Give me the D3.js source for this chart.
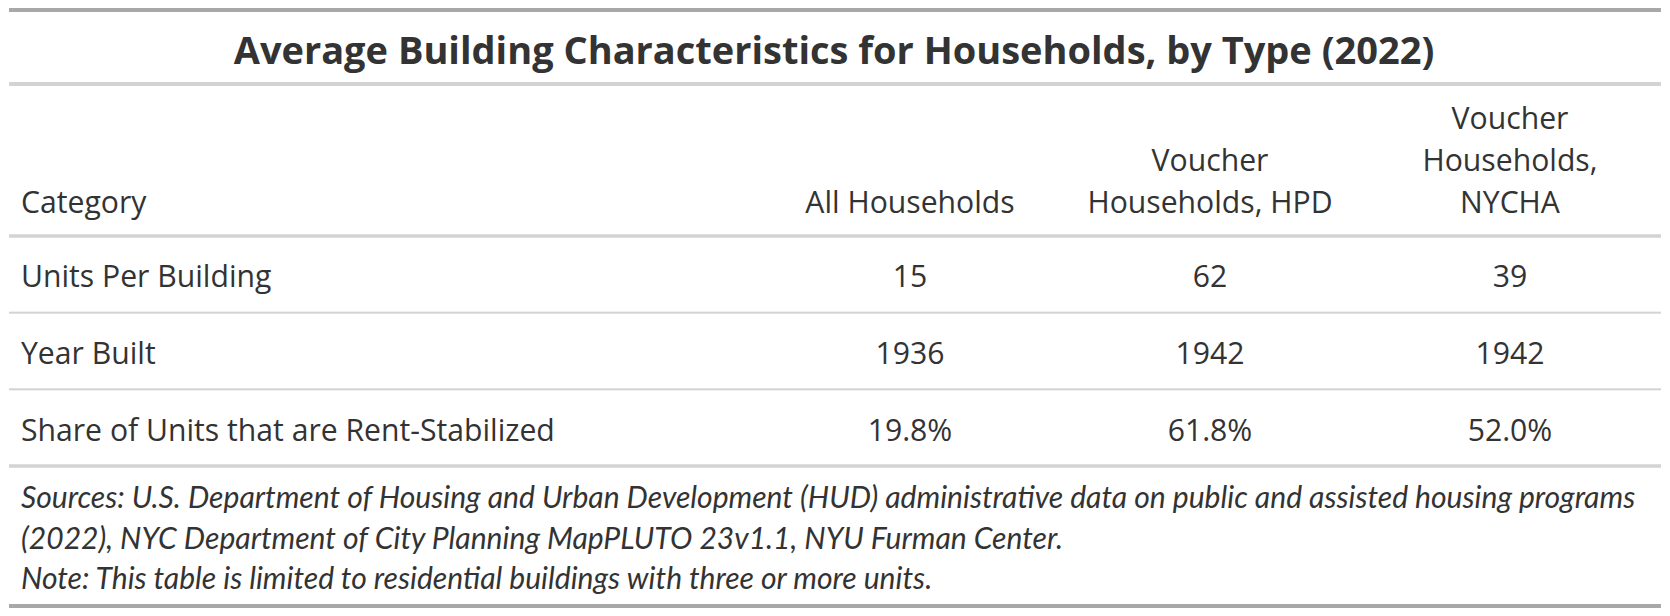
<!DOCTYPE html>
<html><head><meta charset="utf-8">
<script src="https://cdn.jsdelivr.net/npm/d3@7/dist/d3.min.js"></script>
<style>html,body{margin:0;padding:0;background:#fff}</style>
</head><body>
<svg id="chart" width="1670" height="616"></svg>
<script>
// ---- data ----
const title = "Average Building Characteristics for Households, by Type (2022)";
const stubLabel = "Category";
const columnKeys = ["all", "hpd", "nycha"];
const columnLabels = [["All Households"], ["Voucher", "Households, HPD"], ["Voucher", "Households,", "NYCHA"]];
const categories = ["Units Per Building", "Year Built", "Share of Units that are Rent-Stabilized"];
const allHouseholds = [15, 1936, 19.8];
const voucherHPD = [62, 1942, 61.8];
const voucherNYCHA = [39, 1942, 52.0];
const footnotes = [
  "Sources: U.S. Department of Housing and Urban Development (HUD) administrative data on public and assisted housing programs",
  "(2022), NYC Department of City Planning MapPLUTO 23v1.1, NYU Furman Center.",
  "Note: This table is limited to residential buildings with three or more units."
];

// ---- layout ----
const FONT = "'Open Sans', 'Noto Sans', sans-serif";
const NOTE_FONT = "Lato, 'Open Sans', sans-serif";
const TXT = "#333333";
const L = 9, R = 1661, PAD = 12;
const svg = d3.select("#chart").attr("font-family", FONT);

const x = d3.scaleBand().domain(columnKeys).range([760, 1660]);
const y = d3.scaleBand().domain(categories).range([236, 466]);
const series = { all: allHouseholds, hpd: voucherHPD, nycha: voucherNYCHA };
const fmt = [d3.format("d"), d3.format("d"), v => d3.format(".1f")(v) + "%"];

function fitSize(text, weight, style, family, target) {
  const t = svg.append("text").attr("font-size", 100).attr("font-weight", weight)
    .attr("font-style", style).attr("font-family", family).text(text);
  const w = t.node().getComputedTextLength();
  t.remove();
  return 100 * target / w;
}
const bodySize = fitSize(categories[2], "normal", "normal", FONT, 534);
const titleSize = fitSize(title, "bold", "normal", FONT, 1201);
const noteSize = fitSize(footnotes[0], "normal", "italic", NOTE_FONT, 1615);

// horizontal rules
const rules = [
  { y: 10, h: 4, c: "#A8A8A8" },
  { y: 84, h: 4, c: "#D3D3D3" },
  { y: 236, h: 3.5, c: "#D3D3D3" },
  { y: y(categories[1]), h: 2, c: "#D3D3D3" },
  { y: y(categories[2]), h: 2, c: "#D3D3D3" },
  { y: 466, h: 3.5, c: "#D3D3D3" },
  { y: 606, h: 4, c: "#A8A8A8" }
];
svg.append("g").selectAll("rect").data(rules).join("rect")
  .attr("x", L).attr("width", R - L)
  .attr("y", d => d.y - d.h / 2).attr("height", d => d.h).attr("fill", d => d.c);

// title
svg.append("text").attr("x", (L + R) / 2 - 1).attr("y", 63.5)
  .attr("text-anchor", "middle").attr("font-weight", "bold")
  .attr("font-size", titleSize).attr("fill", TXT).text(title);

// column labels
const lineH = 42, labelBase = 213.3;
svg.append("text").attr("x", L + PAD).attr("y", labelBase)
  .attr("font-size", bodySize).attr("fill", TXT).text(stubLabel);
const lab = svg.append("g").selectAll("text").data(columnKeys).join("text")
  .attr("text-anchor", "middle").attr("font-size", bodySize).attr("fill", TXT)
  .attr("x", d => x(d) + x.bandwidth() / 2);
lab.each(function (d, i) {
  const lines = columnLabels[i];
  d3.select(this).selectAll("tspan").data(lines).join("tspan")
    .attr("x", x(d) + x.bandwidth() / 2)
    .attr("y", (l, j) => labelBase - (lines.length - 1 - j) * lineH)
    .text(l => l);
});

// body rows
const rowBase = 51.3;
const rows = svg.append("g").selectAll("g").data(categories).join("g")
  .attr("transform", d => `translate(0,${y(d)})`);
rows.append("text").attr("x", L + PAD).attr("y", rowBase)
  .attr("font-size", bodySize).attr("fill", TXT).text(d => d);
rows.each(function (cat, ri) {
  d3.select(this).selectAll("text.v").data(columnKeys).join("text").attr("class", "v")
    .attr("x", k => x(k) + x.bandwidth() / 2).attr("y", rowBase)
    .attr("text-anchor", "middle").attr("font-size", bodySize).attr("fill", TXT)
    .text(k => fmt[ri](series[k][ri]));
});

// footnotes
const noteBase = 508, noteLineH = 40.5;
svg.append("g").selectAll("text").data(footnotes).join("text")
  .attr("x", L + PAD).attr("y", (d, i) => noteBase + i * noteLineH)
  .attr("font-family", NOTE_FONT)
  .attr("font-size", noteSize).attr("font-style", "italic").attr("fill", TXT)
  .text(d => d);
</script>
</body></html>
